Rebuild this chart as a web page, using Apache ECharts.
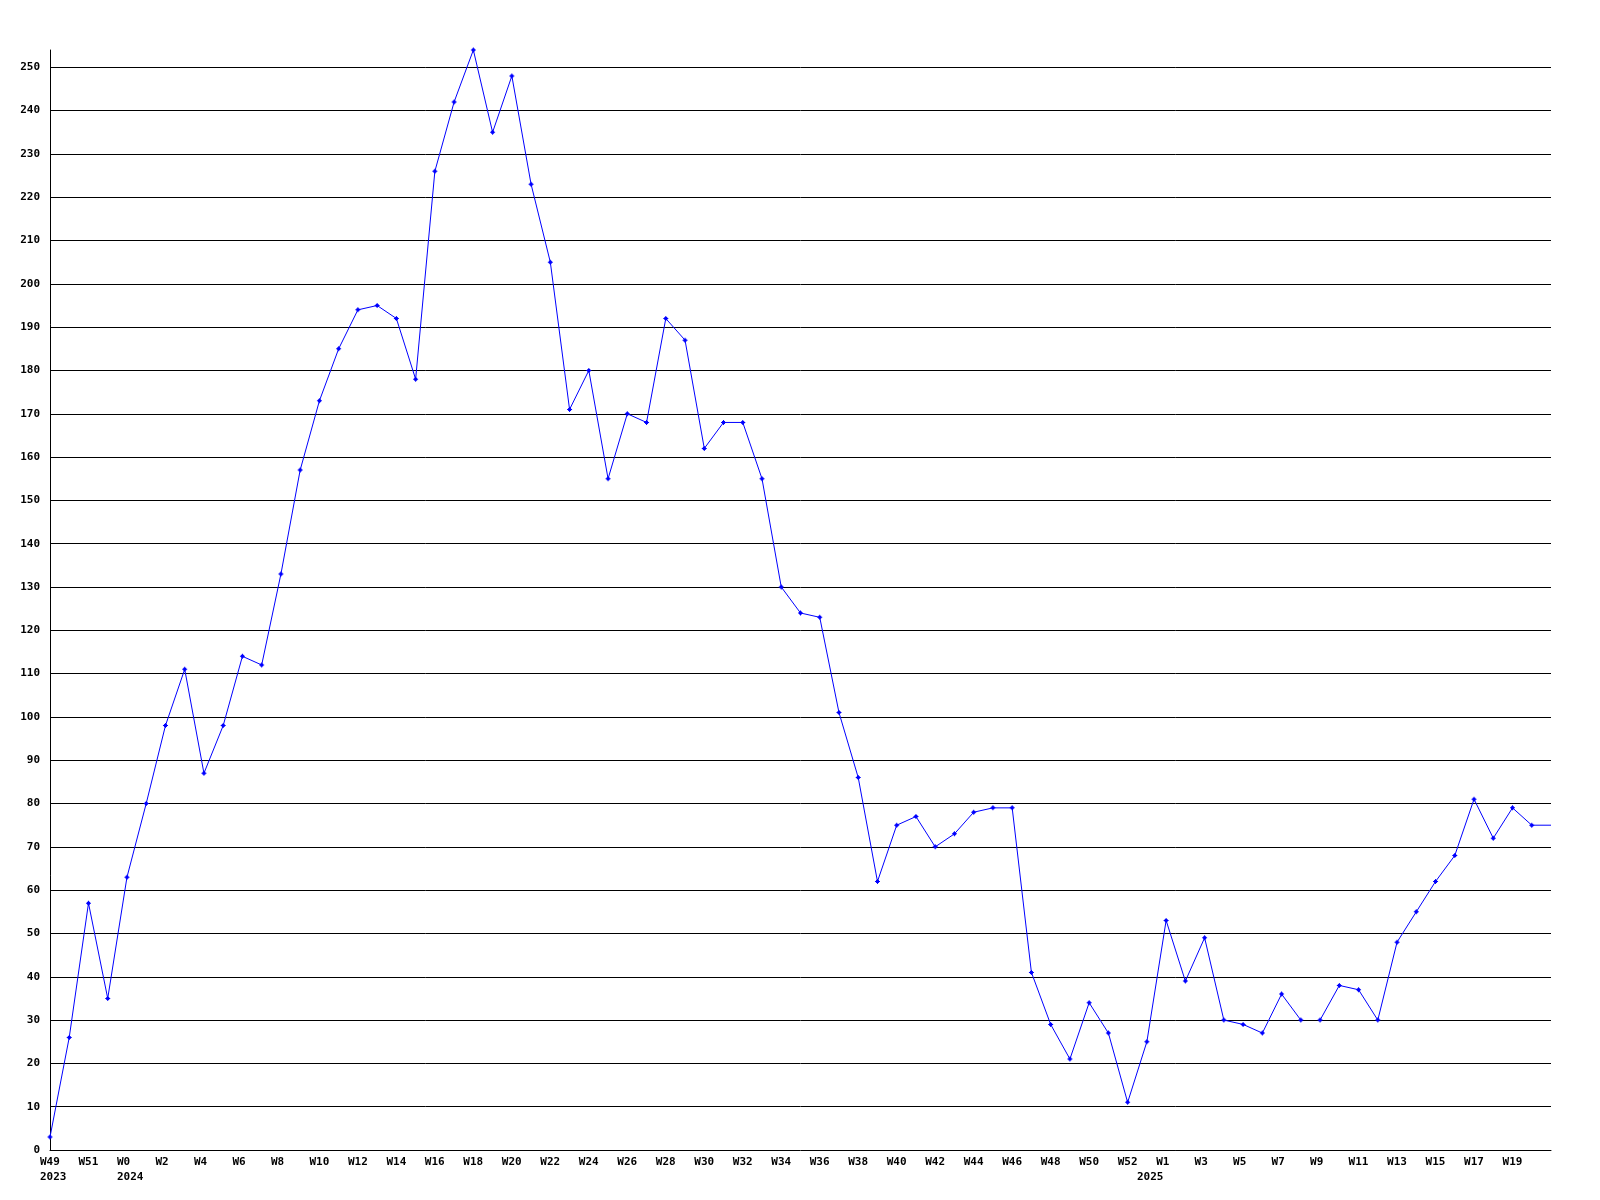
<!DOCTYPE html>
<html>
<head>
<meta charset="utf-8">
<script src="https://cdn.jsdelivr.net/npm/echarts@6/dist/echarts.min.js"></script>
<style>
html,body{margin:0;padding:0;background:#fff;}
#chart{width:1600px;height:1200px;}
</style>
</head>
<body>
<div id="chart"></div>
<script>
// Week labels (2023 W49 .. 2025 W21)
const weekLabels = [
  'W49','W50','W51','W52',
  'W0','W1','W2','W3','W4','W5','W6','W7','W8','W9','W10','W11','W12','W13','W14','W15','W16','W17','W18','W19','W20',
  'W21','W22','W23','W24','W25','W26','W27','W28','W29','W30','W31','W32','W33','W34','W35','W36','W37','W38','W39','W40',
  'W41','W42','W43','W44','W45','W46','W47','W48','W49','W50','W51','W52',
  'W0','W1','W2','W3','W4','W5','W6','W7','W8','W9','W10','W11','W12','W13','W14','W15','W16','W17','W18','W19','W20','W21'
];
// Year of each week label
const weekYears = [
  '2023','2023','2023','2023',
  '2024','2024','2024','2024','2024','2024','2024','2024','2024','2024','2024','2024','2024','2024','2024','2024','2024','2024','2024','2024','2024',
  '2024','2024','2024','2024','2024','2024','2024','2024','2024','2024','2024','2024','2024','2024','2024','2024','2024','2024','2024','2024',
  '2024','2024','2024','2024','2024','2024','2024','2024','2024','2024','2024','2024',
  '2025','2025','2025','2025','2025','2025','2025','2025','2025','2025','2025','2025','2025','2025','2025','2025','2025','2025','2025','2025','2025','2025'
];
// Weekly values
const values = [
  3, 26, 57, 35,
  63, 80, 98, 111, 87, 98, 114, 112, 133, 157, 173, 185, 194, 195, 192, 178, 226, 242, 254, 235, 248,
  223, 205, 171, 180, 155, 170, 168, 192, 187, 162, 168, 168, 155, 130, 124, 123, 101, 86, 62, 75,
  77, 70, 73, 78, 79, 79, 41, 29, 21, 34, 27, 11,
  25, 53, 39, 49, 30, 29, 27, 36, 30, 30, 38, 37, 30, 48, 55, 62, 68, 81, 72, 79, 75, 75
];
// The line is broken after this week label index (2025 W8 -> W9 not joined)
const breakAfter = 65;
// Last entry is an open (current) week drawn without a marker
const openWeekIndex = values.length - 1;
const yTicks = { min: 0, max: 254, step: 10 };

function pointItem(v, i) {
  return i === openWeekIndex ? { value: v, symbol: 'none' } : v;
}
const partA = values.map((v, i) => i <= breakAfter ? pointItem(v, i) : '-');
const partB = values.map((v, i) => i > breakAfter ? pointItem(v, i) : '-');

function isYearStart(i) { return i === 0 || weekYears[i] !== weekYears[i - 1]; }

const FONT = '"DejaVu Sans Mono", "Liberation Mono", monospace';
const markerPath = 'path://M2,0H3V1H4V2H5V3H4V4H3V5H2V4H1V3H0V2H1V1H2Z';

const lineStyleCommon = {
  type: 'line',
  showSymbol: true,
  symbol: markerPath,
  symbolSize: 5,
  itemStyle: { color: '#0000ff' },
  lineStyle: { color: '#0000ff', width: 1 },
  connectNulls: false,
  animation: false,
  z: 3
};

const chart = echarts.init(document.getElementById('chart'), null, { renderer: 'canvas' });
chart.setOption({
  backgroundColor: '#ffffff',
  animation: false,
  grid: { left: 50, right: 49, top: 50, bottom: 50, containLabel: false },
  xAxis: {
    type: 'category',
    boundaryGap: false,
    data: weekLabels,
    axisLine: { show: true, lineStyle: { color: '#000', width: 1 } },
    axisTick: { show: false },
    splitLine: { show: false },
    axisLabel: {
      interval: function (i) {
        return (i % 2 === 0 && i !== openWeekIndex) || isYearStart(i);
      },
      formatter: function (value, i) {
        const showWeek = (i % 2 === 0);
        const first = showWeek ? value : ' ';
        return isYearStart(i) ? first + '\n' + weekYears[i] : first;
      },
      align: 'left',
      verticalAlign: 'top',
      padding: [0, 0, 0, -10],
      margin: 5,
      color: '#000',
      fontFamily: FONT,
      fontWeight: 'bold',
      fontSize: 11,
      lineHeight: 15
    }
  },
  yAxis: {
    type: 'value',
    min: yTicks.min,
    max: yTicks.max,
    interval: yTicks.step,
    axisLine: { show: true, lineStyle: { color: '#000', width: 1 } },
    axisTick: { show: false },
    splitLine: { show: true, showMaxLine: false, showMinLine: false, lineStyle: { color: '#000', width: 1 } },
    axisLabel: {
      showMaxLabel: false,
      margin: 10,
      color: '#000',
      fontFamily: FONT,
      fontWeight: 'bold',
      fontSize: 11
    }
  },
  series: [
    Object.assign({ data: partA }, lineStyleCommon),
    Object.assign({ data: partB }, lineStyleCommon)
  ]
});
</script>
</body>
</html>
